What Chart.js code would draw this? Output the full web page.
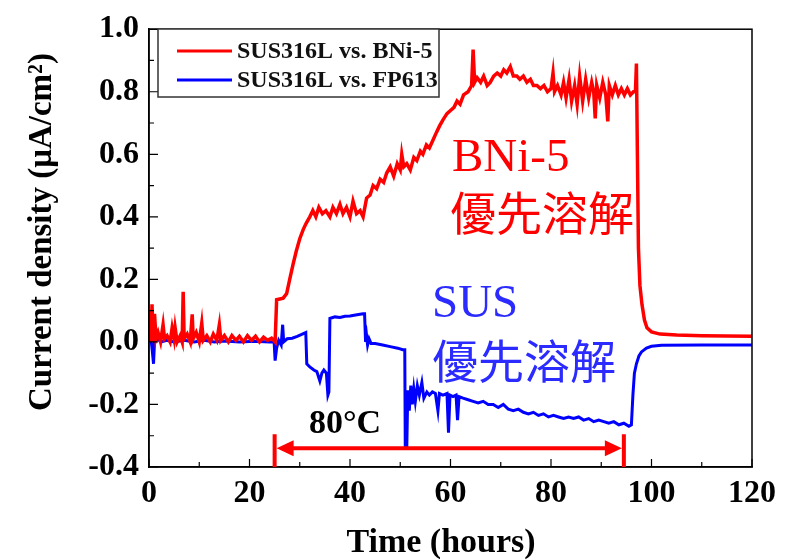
<!DOCTYPE html>
<html>
<head>
<meta charset="utf-8">
<script src="https://cdn.jsdelivr.net/npm/chart.js@4.4.0/dist/chart.umd.min.js"></script>
<style>
  html, body { margin: 0; padding: 0; background: #fff; }
  canvas { display: block; }
</style>
</head>
<body>
<canvas id="chart" width="791" height="560"></canvas>
<script>
// SUS316L vs. BNi-5 (hours, uA/cm2)
const redTime = [
  0, 0.2, 0.4, 0.6, 0.8, 1.1, 1.4, 1.8, 2.3, 2.8,
  3.1, 3.6, 4.2, 4.6, 5.0, 5.2, 5.6, 6.2, 6.6, 6.8,
  7.0, 7.6, 8.2, 8.6, 8.8, 9.4, 10.0, 10.5, 10.8, 11.5,
  12.2, 12.8, 13.5, 14.0, 14.3, 15.0, 15.8, 16.5, 17.3, 18.0,
  18.8, 19.6, 20.4, 21.2, 22.0, 22.8, 23.6, 24.4, 25.1, 25.4,
  26.7, 27.4, 28.0, 28.7, 29.3, 30.0, 30.7, 31.3, 32.0, 32.6,
  33.2, 33.8, 34.5, 35.2, 36.0, 36.6, 37.3, 38.0, 38.6, 39.3,
  40.0, 40.6, 41.3, 42.0, 42.6, 43.3, 44.0, 44.6, 45.3, 46.0,
  46.7, 47.3, 48.0, 48.7, 49.4, 50.0, 50.3, 50.7, 51.3, 52.0,
  52.7, 53.3, 54.0, 54.5, 55.2, 55.8, 56.5, 57.2, 57.8, 58.5,
  59.3, 60.0, 60.7, 61.3, 61.9, 62.6, 63.5, 64.2, 64.5, 64.8,
  65.3, 66.0, 66.6, 67.3, 67.9, 68.6, 69.3, 70.0, 70.6, 71.2,
  71.9, 72.5, 73.2, 73.8, 74.5, 75.2, 75.9, 76.5, 77.2, 77.9,
  78.6, 79.3, 80.0, 80.4, 80.7, 81.3, 82.0, 82.5, 83.0, 83.6,
  84.1, 84.7, 85.2, 85.7, 86.3, 86.9, 87.5, 88.1, 88.5, 88.8,
  89.1, 89.7, 90.3, 90.9, 91.3, 91.6, 92.2, 92.8, 93.4, 94.0,
  94.6, 95.2, 95.8, 96.4, 96.8, 97.0, 97.2, 97.4, 97.7, 98.1,
  98.6, 99.1, 100, 101.7, 105, 110, 115, 120
];
const redCurrent = [
  0.01, 0.10, 0.00, 0.12, 0.00, 0.09, 0.01, 0.03, 0.00, 0.055,
  0.01, 0.02, 0.00, 0.045, 0.01, 0.045, 0.00, 0.02, 0.00, 0.16,
  0.01, 0.025, 0.00, 0.088, 0.01, 0.03, 0.00, 0.06, 0.005, 0.02,
  0.00, 0.025, 0.005, 0.055, 0.005, 0.02, 0.00, 0.02, 0.005, 0.018,
  0.00, 0.02, 0.005, 0.018, 0.00, 0.015, 0.005, 0.012, 0.00, 0.135,
  0.14, 0.155, 0.20, 0.25, 0.29, 0.33, 0.36, 0.38, 0.40, 0.42,
  0.40, 0.43, 0.41, 0.42, 0.40, 0.43, 0.41, 0.44, 0.41, 0.43,
  0.40, 0.45, 0.41, 0.42, 0.40, 0.46, 0.47, 0.50, 0.49, 0.52,
  0.51, 0.54, 0.56, 0.53, 0.57, 0.55, 0.60, 0.56, 0.57, 0.55,
  0.59, 0.58, 0.61, 0.60, 0.63, 0.62, 0.645, 0.67, 0.69, 0.71,
  0.73, 0.74, 0.75, 0.77, 0.76, 0.79, 0.80, 0.82, 0.935, 0.83,
  0.845, 0.83, 0.85, 0.82, 0.83, 0.85, 0.86, 0.85, 0.87, 0.86,
  0.88, 0.85, 0.85, 0.84, 0.85, 0.83, 0.84, 0.82, 0.82, 0.81,
  0.82, 0.80, 0.81, 0.86, 0.80, 0.82, 0.79, 0.83, 0.78, 0.84,
  0.77, 0.82, 0.76, 0.85, 0.77, 0.84, 0.78, 0.83, 0.80, 0.715,
  0.82, 0.78, 0.83, 0.79, 0.705, 0.82, 0.79, 0.82, 0.79, 0.81,
  0.79, 0.81, 0.79, 0.80, 0.80, 0.89, 0.59, 0.30, 0.18, 0.12,
  0.07, 0.045, 0.032, 0.025, 0.022, 0.02, 0.019, 0.018
];

// SUS316L vs. FP613
const blueTime = [
  0, 0.3, 0.6, 0.9, 1.1, 1.5, 2.5, 3.5, 5, 7,
  9, 11, 13, 15, 18, 21, 24, 24.9, 25.1, 25.4,
  25.8, 26.3, 26.6, 26.8, 27.5, 28.5, 29.5, 30.5, 31.2, 31.4,
  32.0, 32.8, 33.4, 34.0, 34.4, 34.8, 35.3, 35.6, 35.8, 36.0,
  37.0, 38.0, 39.0, 40.0, 41.4, 42.6, 42.9, 43.1, 43.3, 43.5,
  43.8, 44.2, 45.0, 46.5, 48.0, 49.5, 50.5, 50.9, 51.0, 51.3,
  51.5, 51.8, 52.1, 52.4, 52.7, 53.0, 53.4, 53.8, 54.3, 54.7,
  55.3, 55.8, 56.4, 57.0, 57.5, 57.8, 58.5, 59.3, 59.6, 59.9,
  60.5, 61.1, 61.4, 61.7, 62.5, 63.5, 64.5, 65.5, 66.5, 67.5,
  68.5, 69.5, 70.5, 71.5, 72.5, 73.5, 74.5, 75.5, 76.5, 77.5,
  78.5, 79.5, 80.5, 81.5, 82.5, 83.5, 84.5, 85.5, 86.5, 87.5,
  88.5, 89.5, 90.5, 91.5, 92.5, 93.5, 94.5, 95.5, 96.0, 96.3,
  96.6, 97.0, 97.5, 98.0, 99.0, 100, 102, 110, 120
];
const blueCurrent = [
  0.0, 0.02, -0.02, -0.07, 0.0, 0.01, 0.0, 0.005, 0.0, 0.005,
  0.0, 0.005, 0.0, 0.003, 0.0, 0.002, 0.0, 0.0, -0.06, -0.02,
  0.005, -0.01, 0.055, 0.0, 0.01, 0.012, 0.018, 0.025, 0.03, -0.07,
  -0.08, -0.09, -0.095, -0.125, -0.10, -0.09, -0.10, -0.17, -0.16, 0.075,
  0.08, 0.078, 0.082, 0.083, 0.087, 0.09, 0.09, 0.0, 0.02, -0.01,
  0.01, -0.005, -0.005, -0.01, -0.015, -0.02, -0.025, -0.025, -0.34, -0.34,
  -0.155, -0.22, -0.14, -0.20, -0.15, -0.19, -0.14, -0.17, -0.13, -0.18,
  -0.16, -0.17, -0.16, -0.165, -0.22, -0.165, -0.17, -0.165, -0.29, -0.17,
  -0.175, -0.17, -0.25, -0.175, -0.18, -0.185, -0.19, -0.195, -0.19, -0.20,
  -0.20, -0.21, -0.20, -0.215, -0.22, -0.215, -0.225, -0.23, -0.225, -0.235,
  -0.23, -0.24, -0.235, -0.24, -0.245, -0.24, -0.245, -0.24, -0.25, -0.245,
  -0.255, -0.25, -0.255, -0.26, -0.255, -0.265, -0.26, -0.27, -0.265, -0.17,
  -0.10, -0.07, -0.045, -0.032, -0.02, -0.014, -0.011, -0.01, -0.01
];

const xTickValues = [0, 20, 40, 60, 80, 100, 120];
const yTickValues = [-0.4, -0.2, 0.0, 0.2, 0.4, 0.6, 0.8, 1.0];
const seriesLabels = ['SUS316L vs. BNi-5', 'SUS316L vs. FP613'];
const seriesColors = ['#ff0000', '#0000ff'];

const serif = "'Liberation Serif', 'Times New Roman', serif";
const cjk = "'Noto Sans CJK TC', 'Noto Sans CJK JP', sans-serif";

const toPoints = (xs, ys) => xs.map((x, i) => ({ x, y: ys[i] }));

// between-major minor ticks
const withMinor = values => values.flatMap((v, i) =>
  i < values.length - 1 ? [v, (v + values[i + 1]) / 2] : [v]);

const decorations = {
  id: 'decorations',
  afterDatasetsDraw(chart) {
    const { ctx, chartArea: area, scales: { x, y } } = chart;
    ctx.save();

    // frame
    ctx.strokeStyle = '#000';
    ctx.lineWidth = 1.5;
    ctx.strokeRect(area.left, area.top, area.right - area.left, area.bottom - area.top);

    // inward ticks
    ctx.lineWidth = 1.2;
    ctx.beginPath();
    withMinor(xTickValues).forEach((v, i) => {
      const px = x.getPixelForValue(v);
      const len = i % 2 === 0 ? 8 : 5;
      ctx.moveTo(px, area.bottom);
      ctx.lineTo(px, area.bottom - len);
    });
    withMinor(yTickValues).forEach((v, i) => {
      const py = y.getPixelForValue(v);
      const len = i % 2 === 0 ? 9 : 5;
      ctx.moveTo(area.left, py);
      ctx.lineTo(area.left + len, py);
    });
    ctx.stroke();

    // legend
    ctx.fillStyle = '#fff';
    ctx.fillRect(158, 29, 281, 68);
    ctx.strokeStyle = '#333';
    ctx.lineWidth = 1.5;
    ctx.strokeRect(158, 29, 281, 68);
    ctx.font = `bold 24px ${serif}`;
    ctx.textBaseline = 'middle';
    ctx.textAlign = 'left';
    seriesLabels.forEach((label, i) => {
      const ly = 51 + i * 29;
      ctx.strokeStyle = seriesColors[i];
      ctx.lineWidth = 3;
      ctx.beginPath();
      ctx.moveTo(177, ly);
      ctx.lineTo(232, ly);
      ctx.stroke();
      ctx.fillStyle = '#111';
      ctx.fillText(label, 237, ly + 1);
    });

    // 80°C range arrow
    const ax0 = x.getPixelForValue(25);
    const ax1 = x.getPixelForValue(94.5);
    const ay = y.getPixelForValue(-0.34);
    const barTop = y.getPixelForValue(-0.295);
    ctx.strokeStyle = '#ff0000';
    ctx.fillStyle = '#ff0000';
    ctx.lineWidth = 4;
    ctx.beginPath();
    ctx.moveTo(ax0, barTop); ctx.lineTo(ax0, area.bottom);
    ctx.moveTo(ax1, barTop); ctx.lineTo(ax1, area.bottom);
    ctx.moveTo(ax0 + 10, ay); ctx.lineTo(ax1 - 10, ay);
    ctx.stroke();
    ctx.beginPath();
    ctx.moveTo(ax0 + 2, ay); ctx.lineTo(ax0 + 19, ay - 8); ctx.lineTo(ax0 + 19, ay + 8);
    ctx.closePath();
    ctx.moveTo(ax1 - 2, ay); ctx.lineTo(ax1 - 19, ay - 8); ctx.lineTo(ax1 - 19, ay + 8);
    ctx.closePath();
    ctx.fill();

    ctx.fillStyle = '#000';
    ctx.font = `bold 34px ${serif}`;
    ctx.textAlign = 'center';
    ctx.fillText('80°C', x.getPixelForValue(39), y.getPixelForValue(-0.262));

    // annotations
    ctx.textAlign = 'left';
    ctx.fillStyle = '#ff0000';
    ctx.font = `47px ${serif}`;
    ctx.fillText('BNi-5', 452, 159);
    ctx.font = `46px ${cjk}`;
    ctx.fillText('優先溶解', 450, 213);

    ctx.fillStyle = '#2b2bff';
    ctx.font = `47px ${serif}`;
    ctx.fillText('SUS', 432, 305);
    ctx.font = `46px ${cjk}`;
    ctx.fillText('優先溶解', 432, 361);

    // axis titles
    ctx.fillStyle = '#000';
    ctx.font = `bold 34px ${serif}`;
    ctx.textAlign = 'center';
    ctx.fillText('Time (hours)', 441, 543);
    ctx.save();
    ctx.translate(42, 232);
    ctx.rotate(-Math.PI / 2);
    ctx.font = `bold 33px ${serif}`;
    ctx.fillText('Current density (μA/cm²)', 0, 0);
    ctx.restore();

    ctx.restore();
  }
};

const onLoad = () => {
  const ctx = document.getElementById('chart').getContext('2d');
  new Chart(ctx, {
    type: 'line',
    data: {
      datasets: [
        {
          label: seriesLabels[0],
          data: toPoints(redTime, redCurrent),
          borderColor: seriesColors[0],
          borderWidth: 3.5,
          pointRadius: 0,
          tension: 0
        },
        {
          label: seriesLabels[1],
          data: toPoints(blueTime, blueCurrent),
          borderColor: seriesColors[1],
          borderWidth: 3,
          pointRadius: 0,
          tension: 0
        }
      ]
    },
    options: {
      responsive: false,
      animation: false,
      devicePixelRatio: 1,
      layout: { padding: { top: 25, right: 39, left: 0, bottom: 0 } },
      plugins: { legend: { display: false }, tooltip: { enabled: false } },
      scales: {
        x: {
          type: 'linear',
          min: 0,
          max: 120,
          afterBuildTicks: scale => { scale.ticks = xTickValues.map(value => ({ value })); },
          afterFit: scale => { scale.height = 93; },
          grid: { display: false, drawTicks: false },
          border: { display: true, color: '#000', width: 1.5 },
          ticks: {
            autoSkip: false,
            maxRotation: 0,
            padding: 8,
            color: '#000',
            font: { family: serif, size: 32, weight: 'bold' },
            callback: v => String(v)
          }
        },
        y: {
          min: -0.4,
          max: 1.0,
          afterBuildTicks: scale => { scale.ticks = yTickValues.map(value => ({ value })); },
          afterFit: scale => { scale.width = 149; },
          grid: { display: false, drawTicks: false },
          border: { display: true, color: '#000', width: 1.5 },
          ticks: {
            autoSkip: false,
            padding: 10,
            color: '#000',
            font: { family: serif, size: 32, weight: 'bold' },
            callback: v => Number(v).toFixed(1)
          }
        }
      }
    },
    plugins: [decorations]
  });
};

window.onload = onLoad;
</script>
</body>
</html>
